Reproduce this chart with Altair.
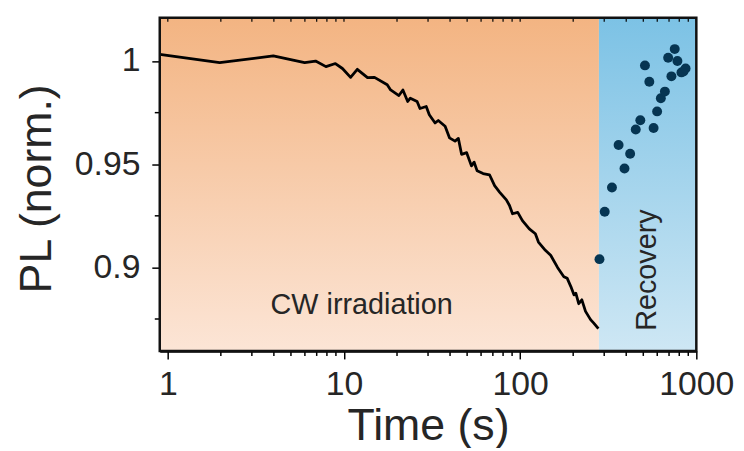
import altair as alt
import pandas as pd

# ---- data ----
line_time = [0.9, 1.97, 3.97, 5.98, 6.9, 7.9, 8.94, 9.8, 10.9, 11.9, 13.6, 14.9, 17.6, 18.4,
             20.5, 21.6, 23, 23.8, 26, 27, 29.3, 30.5, 32.9, 34.3, 37.5, 39.7, 42.7, 44.6,
             46.5, 49.7, 52.9, 54.8, 57, 61.6, 67, 71.6, 76.6, 83.5, 87, 90.5, 96.9, 103,
             112.7, 122, 127, 139, 149, 163, 177, 185, 194, 202, 207, 215, 224, 235, 251,
             261, 278]
line_pl = [1.0032, 0.9992, 1.0025, 0.9992, 1.0, 0.9973, 0.9988, 0.9964, 0.9921, 0.996,
           0.992, 0.9921, 0.9885, 0.986, 0.9833, 0.986, 0.9804, 0.982, 0.9804, 0.977,
           0.978, 0.974, 0.970, 0.9712, 0.9684, 0.9628, 0.9612, 0.9625, 0.9548, 0.9556,
           0.9492, 0.951, 0.9468, 0.9455, 0.9449, 0.9396, 0.9364, 0.9327, 0.93, 0.926,
           0.9267, 0.9227, 0.9187, 0.9163, 0.9123, 0.9083, 0.9059, 0.90, 0.8955, 0.8947,
           0.8907, 0.8867, 0.8875, 0.8824, 0.8843, 0.8787, 0.8747, 0.8731, 0.8703]

rec_time = [282, 302, 332, 362, 391, 421, 453, 481, 511, 541, 572, 599, 629, 663, 692,
            722, 754, 781, 823, 845, 869]
rec_pl = [0.904, 0.927, 0.9387, 0.9593, 0.9479, 0.9551, 0.9668, 0.9713, 0.9979, 0.99,
          0.9676, 0.9756, 0.982, 0.9852, 1.0016, 0.9926, 1.0058, 1.0, 0.9945, 0.9950, 0.9964]

region_edges = [0.9, 280, 1000]          # CW irradiation | Recovery
x_major = [1, 10, 100, 1000]
x_minor = [2, 3, 4, 5, 6, 7, 8, 9, 20, 30, 40, 50, 60, 70, 80, 90,
           200, 300, 400, 500, 600, 700, 800, 900]
y_major = [0.9, 0.95, 1.0]
y_minor = [0.875, 0.925, 0.975]

W, H = 541, 336
FONT = "Liberation Sans"
TXT = "#262626"

xs = alt.Scale(type="log", domain=[0.9, 1000], nice=False)
ys = alt.Scale(domain=[0.8595, 1.021], nice=False, zero=False)

line_df = pd.DataFrame({"t": line_time, "pl": line_pl})
rec_df = pd.DataFrame({"t": rec_time, "pl": rec_pl})
cw_df = pd.DataFrame({"t": [region_edges[0]], "b": [region_edges[1]]})
rv_df = pd.DataFrame({"t": [region_edges[1]], "b": [region_edges[2]]})

orange = alt.Gradient(gradient="linear", x1=0, x2=0, y1=0, y2=1,
                      stops=[alt.GradientStop(offset=0, color="#F3B482"),
                             alt.GradientStop(offset=1, color="#FCE5D6")])
blue = alt.Gradient(gradient="linear", x1=0, x2=0, y1=0, y2=1,
                    stops=[alt.GradientStop(offset=0, color="#7CC2E5"),
                           alt.GradientStop(offset=1, color="#CEE7F4")])

xaxis = alt.Axis(values=x_major, format="d", tickSize=8, tickWidth=1.5, tickColor="black",
                 labelFontSize=34, labelPadding=9, labelFont=FONT, labelColor=TXT,
                 labelFlush=False, labelOverlap=False, grid=False,
                 domain=True, domainColor="black", domainWidth=2.5,
                 title="Time (s)", titleFontSize=45, titleFont=FONT, titleFontWeight="normal",
                 titleColor=TXT, titleBaseline="alphabetic", titleY=89, titleX=W / 2)
yaxis = alt.Axis(values=y_major, format="~g", tickSize=8, tickWidth=1.5, tickColor="black",
                 labelFontSize=34, labelPadding=12, labelFont=FONT, labelColor=TXT,
                 labelFlush=False, labelOverlap=False, grid=False,
                 domain=True, domainColor="black", domainWidth=2.5,
                 title="PL (norm.)", titleFontSize=45, titleFont=FONT, titleFontWeight="normal",
                 titleColor=TXT, titleAngle=270, titleBaseline="middle", titleAlign="center",
                 titleX=-124, titleY=172)

X = alt.X("t:Q", scale=xs, axis=xaxis, title="Time (s)")

bg_cw = alt.Chart(cw_df).mark_rect(fill=orange).encode(
    x=X, x2="b:Q", y=alt.value(0), y2=alt.value(H))
bg_rv = alt.Chart(rv_df).mark_rect(fill=blue).encode(
    x=X, x2="b:Q", y=alt.value(0), y2=alt.value(H))

Y = alt.Y("pl:Q", scale=ys, axis=yaxis, title="PL (norm.)")

line = alt.Chart(line_df).mark_line(color="black", strokeWidth=2.8, strokeJoin="round").encode(
    x=X, y=Y)

dots = alt.Chart(rec_df).mark_circle(size=100, color="#063552", opacity=1).encode(x=X, y=Y)

minor_x_df = pd.DataFrame({"t": x_minor})
all_x_df = pd.DataFrame({"t": x_major + x_minor})
minor_y_df = pd.DataFrame({"pl": y_minor})

xminor = alt.Chart(minor_x_df).mark_rule(color="black", strokeWidth=1.5).encode(
    x=X, y=alt.value(H), y2=alt.value(H + 5))
xtop = alt.Chart(all_x_df).mark_rule(color="black", strokeWidth=1.2).encode(
    x=X, y=alt.value(0), y2=alt.value(4))
yminor = alt.Chart(minor_y_df).mark_rule(color="black", strokeWidth=1.5).encode(
    y=Y, x=alt.value(-5), x2=alt.value(0))

frame = alt.Chart(cw_df).mark_rect(fill="transparent", stroke="#111", strokeWidth=2.5).encode(
    x=alt.value(0), x2=alt.value(W), y=alt.value(0), y2=alt.value(H))

cw_text = alt.Chart(cw_df).mark_text(text="CW irradiation", font=FONT, fontSize=29,
                                     color=TXT, baseline="alphabetic", align="center").encode(
    x=alt.datum(12.6), y=alt.datum(0.8772))
rv_text = alt.Chart(rv_df).mark_text(text="Recovery", font=FONT, fontSize=29, angle=270,
                                     color=TXT, baseline="middle", align="center").encode(
    x=alt.datum(525), y=alt.datum(0.8987))

chart = alt.layer(bg_cw, bg_rv, line, dots, cw_text, rv_text, xminor, xtop, yminor, frame).properties(
    width=W, height=H,
    autosize=alt.AutoSizeParams(type="none"),
    padding={"left": 153, "top": 8, "right": 40, "bottom": 96},
).configure_view(stroke=None)

chart.save("out.html", embed_options={"renderer": "svg", "actions": False})
